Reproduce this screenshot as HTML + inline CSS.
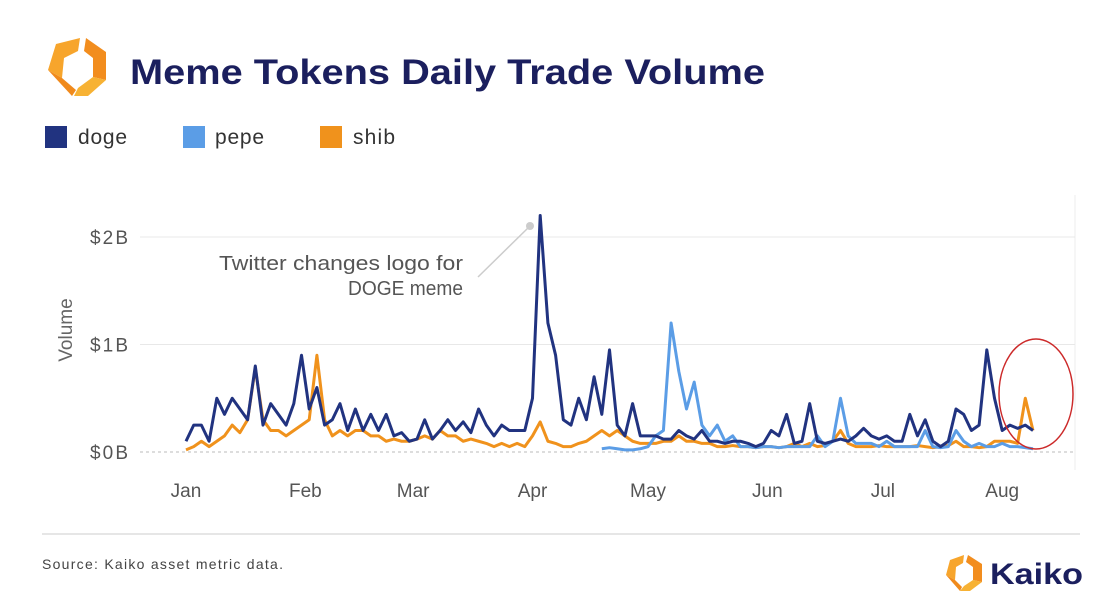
<!DOCTYPE html>
<html><head><meta charset="utf-8"><style>
body{margin:0;background:#fff;font-family:"Liberation Sans",sans-serif;}
svg text{font-family:"Liberation Sans",sans-serif;}
</style></head><body>
<svg width="1120" height="601" viewBox="0 0 1120 601">
<g>
<polygon points="56,44 80,38 78,51 64,58 62,78 48,70" fill="#f7a52c"/>
<polygon points="48,70 62,78 76,90 72,96" fill="#f08a1c"/>
<polygon points="86,38 106,52 106,80 93,77 93,58 84,51" fill="#f28d1e"/>
<polygon points="93,77 106,80 88,96 74,96 78,88" fill="#f7b234"/>
</g>
<text x="130" y="84" font-size="35" font-weight="bold" fill="#1b1f5e" textLength="635" lengthAdjust="spacingAndGlyphs">Meme Tokens Daily Trade Volume</text>
<g>
<rect x="45" y="126" width="22" height="22" fill="#213380"/>
<text x="78" y="144" font-size="21" fill="#333" textLength="49">doge</text>
<rect x="183" y="126" width="22" height="22" fill="#5b9de6"/>
<text x="215" y="144" font-size="21" fill="#333" textLength="49">pepe</text>
<rect x="320" y="126" width="22" height="22" fill="#f0921c"/>
<text x="353" y="144" font-size="21" fill="#333" textLength="42">shib</text>
</g>
<line x1="1075" y1="195" x2="1075" y2="470" stroke="#eee"/>
<g id="grid"></g>
<text transform="translate(72,330) rotate(-90)" text-anchor="middle" font-size="19" fill="#666">Volume</text>
<g id="series"></g>
<g>
<circle cx="530" cy="226" r="4" fill="#ccc"/>
<line x1="530" y1="226" x2="478" y2="277" stroke="#ccc" stroke-width="1.5"/>
<text x="463" y="270" text-anchor="end" font-size="20" fill="#555" textLength="244" lengthAdjust="spacingAndGlyphs">Twitter changes logo for</text>
<text x="463" y="295" text-anchor="end" font-size="20" fill="#555" textLength="115" lengthAdjust="spacingAndGlyphs">DOGE meme</text>
</g>
<ellipse cx="1036" cy="394" rx="37" ry="55" fill="none" stroke="#cc2a2a" stroke-width="1.5"/>
<line x1="42" y1="534" x2="1080" y2="534" stroke="#ccc"/>
<text x="42" y="569" font-size="14" fill="#444" textLength="241">Source: Kaiko asset metric data.</text>
<g>
<polygon points="950,560 964,555 963,563 956,567 955,580 946,575" fill="#f7a52c"/>
<polygon points="968,555 982,564 982,582 973,580 973,567 966,562" fill="#f28d1e"/>
<polygon points="973,580 982,582 970,591 960,591 964,586" fill="#f7b234"/>
<polygon points="946,575 955,580 962,587 960,591" fill="#f08a1c"/>
<text x="990" y="584" font-size="30" font-weight="bold" fill="#1b1f5e" textLength="93" lengthAdjust="spacingAndGlyphs">Kaiko</text>
</g>
</svg>
<script>
const monthLabels=["Jan","Feb","Mar","Apr","May","Jun","Jul","Aug"];
const monthDays=[0,31,59,90,120,151,181,212];
const yTicks=[0,1,2];
const yTickLabels=["$0B","$1B","$2B"];
const stepDays=2;
const doge=[0.1,0.25,0.25,0.1,0.5,0.35,0.5,0.4,0.3,0.8,0.25,0.45,0.35,0.25,0.45,0.9,0.4,0.6,0.25,0.3,0.45,0.2,0.4,0.2,0.35,0.2,0.35,0.15,0.18,0.1,0.12,0.3,0.12,0.2,0.3,0.2,0.28,0.18,0.4,0.25,0.15,0.25,0.2,0.2,0.2,0.5,2.2,1.2,0.9,0.3,0.25,0.5,0.3,0.7,0.35,0.95,0.25,0.15,0.45,0.15,0.15,0.15,0.12,0.12,0.2,0.15,0.12,0.2,0.1,0.1,0.08,0.1,0.1,0.08,0.05,0.08,0.2,0.15,0.35,0.08,0.1,0.45,0.1,0.08,0.1,0.12,0.1,0.15,0.22,0.15,0.12,0.15,0.1,0.1,0.35,0.15,0.3,0.1,0.05,0.1,0.4,0.35,0.2,0.25,0.95,0.5,0.2,0.25,0.22,0.25,0.2];
const pepeStart=54;
const pepe=[0.03,0.04,0.03,0.02,0.02,0.03,0.05,0.15,0.2,1.2,0.75,0.4,0.65,0.25,0.15,0.25,0.1,0.15,0.05,0.05,0.04,0.05,0.05,0.04,0.05,0.05,0.05,0.05,0.15,0.05,0.1,0.5,0.15,0.08,0.08,0.08,0.05,0.1,0.05,0.05,0.05,0.05,0.2,0.05,0.04,0.05,0.2,0.1,0.05,0.08,0.05,0.05,0.08,0.05,0.05,0.04,0.03];
const shib=[0.02,0.05,0.1,0.05,0.1,0.15,0.25,0.18,0.3,0.78,0.3,0.2,0.2,0.15,0.2,0.25,0.3,0.9,0.3,0.15,0.2,0.15,0.2,0.2,0.15,0.15,0.1,0.12,0.1,0.1,0.12,0.15,0.12,0.2,0.15,0.15,0.1,0.12,0.1,0.08,0.05,0.08,0.05,0.08,0.05,0.15,0.28,0.1,0.08,0.05,0.05,0.08,0.1,0.15,0.2,0.15,0.2,0.15,0.1,0.08,0.08,0.08,0.1,0.1,0.15,0.1,0.1,0.08,0.08,0.05,0.05,0.06,0.05,0.05,0.04,0.05,0.05,0.04,0.05,0.08,0.05,0.08,0.05,0.06,0.1,0.2,0.08,0.05,0.05,0.05,0.06,0.05,0.05,0.05,0.05,0.06,0.05,0.04,0.05,0.06,0.1,0.05,0.05,0.04,0.05,0.1,0.1,0.1,0.08,0.5,0.2];
const NS="http://www.w3.org/2000/svg";
const x=d=>186+d*3.85;
const y=v=>452-v*107.5;
const grid=document.getElementById('grid');
yTicks.forEach((t,i)=>{
  const l=document.createElementNS(NS,'line');
  l.setAttribute('x1',140);l.setAttribute('x2',1075);l.setAttribute('y1',y(t));l.setAttribute('y2',y(t));
  l.setAttribute('stroke',t===0?'#bbb':'#e8e8e8');
  if(t===0)l.setAttribute('stroke-dasharray','3,3');
  
  
  grid.appendChild(l);
  const tx=document.createElementNS(NS,'text');
  tx.setAttribute('x',128);tx.setAttribute('y',y(t)+7);tx.setAttribute('text-anchor','end');
  tx.setAttribute('font-size','19');tx.setAttribute('fill','#555');
  tx.setAttribute('textLength','38');
  tx.textContent=yTickLabels[i];
  
  
  grid.appendChild(tx);
});
monthLabels.forEach((m,i)=>{
  const tx=document.createElementNS(NS,'text');
  tx.setAttribute('x',x(monthDays[i]));tx.setAttribute('y',497);tx.setAttribute('text-anchor','middle');
  tx.setAttribute('font-size','19');tx.setAttribute('fill','#555');
  tx.textContent=m;
  
  
  grid.appendChild(tx);
});
const sg=document.getElementById('series');
function draw(arr,start,color,name){
  const p=document.createElementNS(NS,'polyline');
  p.setAttribute('points',arr.map((v,i)=>x((start+i)*stepDays)+','+y(v)).join(' '));
  p.setAttribute('fill','none');p.setAttribute('stroke',color);p.setAttribute('stroke-width','3');
  p.setAttribute('stroke-linejoin','round');
  
  
  sg.appendChild(p);
}
draw(shib,0,'#f0921c','shib-line');
draw(pepe,pepeStart,'#5b9de6','pepe-line');
draw(doge,0,'#213380','doge-line');
</script>
</body></html>
